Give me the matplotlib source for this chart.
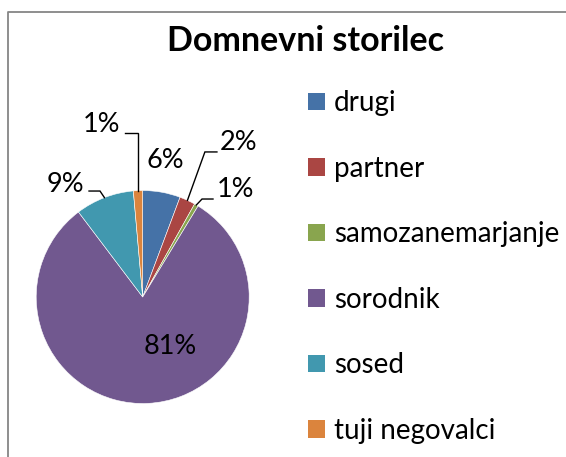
import numpy as np
import matplotlib
matplotlib.use("Agg")
import matplotlib.pyplot as plt
from matplotlib.lines import Line2D
from matplotlib.patches import Patch

# data (percent of cases)
categories = ["drugi", "partner", "samozanemarjanje", "sorodnik", "sosed", "tuji negovalci"]
shares = [5.7, 2.4, 0.6, 81.0, 8.9, 1.4]
colors = ["#4572A7", "#AA4643", "#89A54E", "#71588F", "#4198AF", "#DB843D"]
title = "Domnevni storilec"

plt.rcParams['font.family'] = ['Lato', 'DejaVu Sans']

W, H = 566, 457
fig = plt.figure(figsize=(W / 100, H / 100), dpi=100)

# pie axes: centre (143, 297) px, radius 106.5 px
cx, cy, r = 142.7, 297.0, 106.5
ax = fig.add_axes([(cx - r) / W, (H - cy - r) / H, 2 * r / W, 2 * r / H])
wedges, _ = ax.pie(shares, colors=colors, startangle=90, counterclock=False,
                   wedgeprops=dict(edgecolor='white', linewidth=0.4))
ax.set_xlim(-1, 1)
ax.set_ylim(-1, 1)
ax.set_aspect('equal')
ax.axis('off')

# label layout in pie units: (text x, text y, leader elbow x, leader y, leader end x)
label_layout = [
    (0.209, 1.286, None, None, None),
    (0.904, 1.455, 0.584, 1.362, 0.697),
    (0.876, 1.005, 0.557, 0.920, 0.660),
    (0.258, -0.469, None, None, None),
    (-0.729, 1.061, -0.401, 0.995, -0.504),
    (-0.390, 1.623, None, 1.540, -0.167),
]
fs = 19.5
for w, v, lay in zip(wedges, shares, label_layout):
    tx, ty, ex, ly, endx = lay
    ax.text(tx, ty, "%d%%" % round(v), ha='center', va='center', fontsize=fs,
            clip_on=False)
    if ly is None:
        continue
    mid = np.deg2rad((w.theta1 + w.theta2) / 2)
    px, py = np.cos(mid), np.sin(mid)
    if ex is None:
        ex = px
    ax.plot([px, ex, endx], [py, ly, ly], color='black', lw=1.0,
            clip_on=False, solid_joinstyle='miter')

fig.text(0.539, 1 - 51 / H, title, ha='center', va='baseline',
         fontsize=24.5, fontweight='bold')

handles = [Patch(facecolor=c, edgecolor='none') for c in colors]
fig.legend(handles, categories, loc='upper left',
           bbox_to_anchor=(289 / W, 1 - 71 / H), frameon=False,
           fontsize=20, handlelength=0.6, handleheight=0.6,
           handletextpad=0.32, labelspacing=1.42, borderpad=0.2)

# chart border (only top and left are visible in the crop)
fig.add_artist(Line2D([7.5 / W, 7.5 / W, 1.0], [0.0, 1 - 12 / H, 1 - 12 / H],
                      color='#868686', lw=1.3, transform=fig.transFigure))

fig.savefig("out.png", dpi=100)
